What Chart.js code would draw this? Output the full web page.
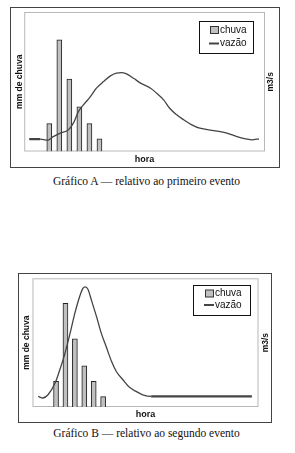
<!DOCTYPE html>
<html>
<head>
<meta charset="utf-8">
<script src="https://cdn.jsdelivr.net/npm/chart.js@4/dist/chart.umd.min.js"></script>
<style>
  body { margin: 0; background: #fff; width: 295px; height: 453px; position: relative; overflow: hidden; }
  .frame { position: absolute; border: 1px solid #444; }
  .frame canvas { display: block; }
  .caption { position: absolute; left: 0; width: 293px; text-align: center; font-family: "Liberation Serif", "Times New Roman", serif; font-size: 11.5px; color: #111; }
</style>
</head>
<body>
<div class="frame" style="left:10px; top:7px;"><canvas id="chartA" width="268" height="159"></canvas></div>
<div class="caption" style="top:175px;">Gráfico A — relativo ao primeiro evento</div>

<div class="frame" style="left:18px; top:273px;"><canvas id="chartB" width="252" height="148"></canvas></div>
<div class="caption" style="top:427px;">Gráfico B — relativo ao segundo evento</div>

<script>
// Hours where rain was measured (same for both events)
const horasChuva = [2.5, 3.5, 4.5, 5.5, 6.5, 7.5];

// Rain (mm) per hour - event A and B
const chuvaA = [20, 80, 52, 32, 20, 9];
const chuvaB = [20, 80.5, 53, 32, 20, 8];

// Flow (vazão) curve - event A
const horasVazaoA = [0.5, 1.6, 2.3, 2.9, 3.6, 4.4, 4.9, 5.4, 5.9, 6.6, 7.2, 7.9, 8.6, 9.2, 9.7, 10.2, 10.9, 11.6, 12.6, 13.2, 13.9, 14.5, 15.2, 15.9, 16.7, 17.5, 18.9, 20.2, 21.2, 22.2, 22.7, 23.4];
const vazaoA = [8.9, 8.9, 8.1, 10.7, 13.2, 15.5, 20.3, 28.6, 33.4, 39.4, 45.4, 50.1, 54.2, 56.1, 56.6, 55.6, 52.5, 49, 45.4, 41.8, 37, 31, 26.3, 22.7, 19.1, 16.7, 15, 13.2, 10.7, 8.9, 8.4, 9.1];

// Flow (vazão) curve - event B
const horasVazaoB = [0.6, 1.1, 1.65, 2.4, 2.9, 3.4, 3.95, 4.5, 5.0, 5.35, 5.6, 5.9, 6.25, 6.8, 7.3, 7.85, 8.4, 8.9, 9.6, 10.3, 11.0, 11.7, 12.6, 23.3];
const vazaoB = [8.2, 7.0, 9.5, 18.6, 28.9, 40.5, 56, 72.9, 85.7, 92.2, 93.4, 91.3, 83.2, 70.2, 57.4, 46.4, 35.3, 27.6, 21.2, 15.3, 12.1, 9.5, 8.2, 8.2];

const legendLabels = ['chuva', 'vazão'];

Chart.defaults.font.family = '"Liberation Sans", Arial, sans-serif';
Chart.defaults.color = '#111';

// Draws plot border, the right axis title and the boxed legend
const quadroPlugin = {
    id: 'quadro',
    beforeDatasetsDraw(chart) {
        const { ctx, chartArea: a } = chart;
        ctx.save();
        ctx.strokeStyle = '#b8b8b8';
        ctx.lineWidth = 1;
        ctx.strokeRect(a.left + 0.5, a.top + 0.5, a.width - 1, a.height - 1);
        ctx.restore();
    },
    afterDraw(chart, args, opts) {
        const { ctx, chartArea: a } = chart;
        ctx.save();
        // right title, reads bottom to top
        ctx.translate(opts.tituloDirX, (a.top + a.bottom) / 2);
        ctx.rotate(-Math.PI / 2);
        ctx.font = 'bold 8.5px "Liberation Sans", Arial, sans-serif';
        ctx.textAlign = 'center';
        ctx.textBaseline = 'middle';
        ctx.fillStyle = '#111';
        ctx.fillText('m3/s', 0, 0);
        ctx.restore();

        // legend box
        const L = opts.legenda;
        ctx.save();
        ctx.fillStyle = '#fff';
        ctx.fillRect(L.x, L.y, L.w, L.h);
        ctx.strokeStyle = '#111';
        ctx.lineWidth = 1;
        ctx.strokeRect(L.x + 0.5, L.y + 0.5, L.w, L.h);
        ctx.fillStyle = '#c0c0c0';
        ctx.fillRect(L.sx, L.y1 - 3.5, 8, 7);
        ctx.strokeStyle = '#333';
        ctx.strokeRect(L.sx + 0.5, L.y1 - 3.5, 8, 7);
        ctx.strokeStyle = '#444';
        ctx.lineWidth = 2;
        ctx.beginPath();
        ctx.moveTo(L.sx - 1, L.y2);
        ctx.lineTo(L.sx + 9, L.y2);
        ctx.stroke();
        ctx.font = '10px "Liberation Sans", Arial, sans-serif';
        ctx.fillStyle = '#111';
        ctx.textBaseline = 'middle';
        ctx.fillText(legendLabels[0], L.sx + 10, L.y1);
        ctx.fillText(legendLabels[1], L.sx + 10, L.y2);
        ctx.restore();
    }
};

// Build one event chart
function initEventoChart(chartId, chuva, horasVazao, vazao, cfg) {
    const ctx = document.getElementById(chartId).getContext('2d');
    const pontos = horasVazao.map((h, i) => ({ x: h, y: vazao[i] }));
    const barras = horasChuva.map((h, i) => ({ x: h, y: chuva[i] }));

    return new Chart(ctx, {
        data: {
            datasets: [
                {
                    type: 'bar',
                    label: legendLabels[0],
                    data: barras,
                    yAxisID: 'y',
                    backgroundColor: '#c0c0c0',
                    borderColor: '#222',
                    borderWidth: 1,
                    barThickness: 5,
                    order: 2
                },
                {
                    type: 'line',
                    label: legendLabels[1],
                    data: pontos,
                    yAxisID: 'y1',
                    borderColor: '#444',
                    borderWidth: 1.3,
                    pointRadius: 0,
                    cubicInterpolationMode: 'monotone',
                    segment: {
                        borderWidth: c => (c.p0.parsed.x >= cfg.grossoDe && c.p1.parsed.x <= cfg.grossoAte) ? 2.2 : 1.3
                    },
                    order: 1
                }
            ]
        },
        options: {
            responsive: false,
            animation: false,
            layout: { padding: cfg.padding },
            plugins: {
                legend: { display: false },
                tooltip: { enabled: false },
                quadro: { tituloDirX: cfg.tituloDirX, legenda: cfg.legenda }
            },
            scales: {
                x: {
                    type: 'linear', min: 0, max: 24, offset: false,
                    ticks: { display: false },
                    grid: { display: false, drawTicks: false },
                    border: { display: false },
                    title: { display: true, text: 'hora', font: { size: 9, weight: 'bold' }, padding: cfg.horaPad }
                },
                y: {
                    position: 'left', min: 0, max: 100,
                    ticks: { display: false },
                    grid: { display: false, drawTicks: false },
                    border: { display: false },
                    title: { display: true, text: 'mm de chuva', font: { size: 8.5, weight: 'bold', lineHeight: 1 }, padding: cfg.chuvaPad }
                },
                y1: { position: 'right', min: 0, max: 100, display: false }
            }
        },
        plugins: [quadroPlugin]
    });
}

initEventoChart('chartA', chuvaA, horasVazaoA, vazaoA, {
    padding: { left: 0, right: 14, top: 4, bottom: 1.7 },
    horaPad: { top: 3, bottom: 0 },
    chuvaPad: { top: 4.7, bottom: 0 },
    tituloDirX: 259.7,
    grossoDe: 0, grossoAte: 1.7,
    legenda: { x: 188, y: 13, w: 54, h: 32, sx: 199, y1: 22, y2: 35.5 }
});

initEventoChart('chartB', chuvaB, horasVazaoB, vazaoB, {
    padding: { left: 0, right: 12.5, top: 4.3, bottom: 1.6 },
    horaPad: { top: 2.6, bottom: 0 },
    chuvaPad: { top: 3, bottom: 2 },
    tituloDirX: 246.5,
    grossoDe: 12.5, grossoAte: 24,
    legenda: { x: 174, y: 11, w: 57, h: 30, sx: 186, y1: 19.5, y2: 31 }
});
</script>
</body>
</html>
